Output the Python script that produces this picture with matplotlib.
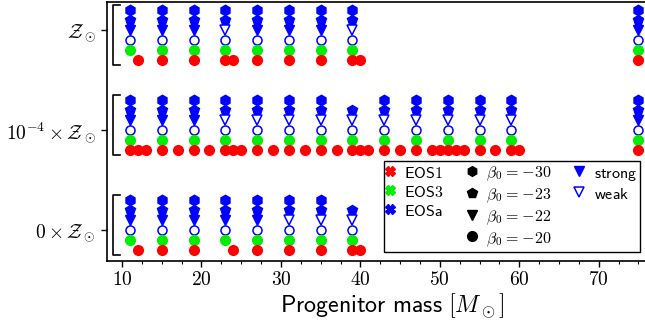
import matplotlib
matplotlib.use("Agg")
import matplotlib.pyplot as plt
from matplotlib.lines import Line2D
from matplotlib.ticker import MultipleLocator, FuncFormatter

plt.rcParams['mathtext.fontset'] = 'cm'

# metallicity groups, bottom to top
group_labels = [r"$0\times\mathcal{Z}_\odot$", r"$10^{-4}\times\mathcal{Z}_\odot$", r"$\mathcal{Z}_\odot$"]

# Z = 0
z0_hex = [11, 15, 19, 23, 27, 31, 35]
z0_pent = [11, 15, 19, 23, 27, 31, 35, 39]
z0_strong = [11, 15, 19, 23, 27]
z0_weak = [31, 35, 39]
z0_circ = [11, 15, 19, 23, 27, 31, 35, 39]
z0_eos3 = [11, 15, 19, 23, 27, 31, 35, 39]
z0_eos1 = [12, 15, 19, 24, 27, 31, 35, 39, 40]

# Z = 1e-4 Zsun
z4_hex = [11, 15, 19, 23, 27, 31, 35, 43, 47, 51, 55, 59, 75]
z4_pent = [11, 15, 19, 23, 27, 31, 35, 39, 43, 47, 51, 55, 59, 75]
z4_strong = [11, 15, 19, 75]
z4_weak = [23, 27, 31, 35, 39, 43, 47, 51, 55, 59]
z4_circ = [11, 15, 19, 23, 27, 31, 35, 39, 43, 47, 51, 55, 59, 75]
z4_eos3 = [11, 15, 19, 23, 27, 31, 35, 39, 43, 47, 51, 55, 59, 75]
z4_eos1 = [11, 12, 13, 15, 17, 19, 21, 23, 24, 25, 27, 29, 31, 33, 35, 37, 39, 40, 41,
           43, 45, 47, 49, 50, 51, 52, 53, 55, 57, 59, 60, 75]

# Z = Zsun
zs_hex = [11, 15, 19, 23, 27, 31, 35, 39, 75]
zs_pent = [11, 15, 19, 23, 27, 31, 35, 39, 75]
zs_strong = [11, 15, 19, 27, 31, 35, 75]
zs_weak = [23, 39]
zs_circ = [11, 15, 19, 23, 27, 31, 35, 39, 75]
zs_eos3 = [11, 15, 19, 23, 27, 31, 35, 39, 75]
zs_eos1 = [12, 15, 19, 23, 24, 27, 31, 35, 39, 40, 75]

groups = [
    (z0_hex, z0_pent, z0_strong, z0_weak, z0_circ, z0_eos3, z0_eos1),
    (z4_hex, z4_pent, z4_strong, z4_weak, z4_circ, z4_eos3, z4_eos1),
    (zs_hex, zs_pent, zs_strong, zs_weak, zs_circ, zs_eos3, zs_eos1),
]
group_shift = [0.0, 0.0, -0.1]

red = '#ff0000'
green = '#00ee00'
blue = '#0000ff'
ms = 7

fig = plt.figure(figsize=(6.45, 3.24), dpi=100)
# the axes runs past the right edge of the figure (cropped like the original)
ax = fig.add_axes([107 / 645, 1 - 260.7 / 324, (677.4 - 107) / 645, (260.7 - 1.5) / 324])

for i, (hx, pe, st, wk, ci, e3, e1) in enumerate(groups):
    y0 = i + group_shift[i]
    ax.plot(hx, [y0 + 0.3] * len(hx), 'h', color=blue, ms=ms + 0.5, ls='none')
    ax.plot(pe, [y0 + 0.2] * len(pe), 'p', color=blue, ms=ms + 0.5, ls='none')
    ax.plot(st, [y0 + 0.1] * len(st), 'v', color=blue, ms=ms, ls='none')
    ax.plot(wk, [y0 + 0.1] * len(wk), 'v', mfc='white', mec=blue, mew=1.1, ms=ms, ls='none')
    ax.plot(ci, [y0] * len(ci), 'o', mfc='white', mec=blue, mew=1.1, ms=ms - 0.5, ls='none')
    ax.plot(e3, [y0 - 0.1] * len(e3), 'o', color=green, ms=ms, ls='none')
    ax.plot(e1, [y0 - 0.2] * len(e1), 'o', color=red, ms=ms, ls='none')
    top, bot = y0 + 0.35, y0 - 0.25
    ax.plot([9.8, 8.9, 8.9, 9.8], [top, top, bot, bot], 'k-', lw=1.2)

ax.set_xlim(8.11, 79.9)
ax.set_ylim(-0.308, 2.29)
ax.set_yticks([0, 1, 2])
ax.set_yticklabels(group_labels, fontsize=14)
ax.xaxis.set_major_locator(MultipleLocator(10))
ax.xaxis.set_minor_locator(MultipleLocator(2.5))
ax.xaxis.set_major_formatter(FuncFormatter(lambda v, p: f"${v:g}$"))
ax.tick_params(axis='x', which='major', length=4, width=1, labelsize=14, pad=3)
ax.tick_params(axis='x', which='minor', length=2, width=0.8)
ax.tick_params(axis='y', which='major', length=4, width=1, pad=4)
for s in ['left', 'bottom', 'top', 'right']:
    ax.spines[s].set_linewidth(1.2)
ax.set_xlabel(r"$\mathsf{Progenitor\ mass}\ [M_\odot]$", fontsize=17.3, labelpad=1)

# legend
blank = Line2D([], [], ls='none')
handles = [
    Line2D([], [], marker='X', color=red, ls='none', ms=7),
    Line2D([], [], marker='X', color=green, ls='none', ms=7),
    Line2D([], [], marker='X', color=blue, ls='none', ms=7),
    blank,
    Line2D([], [], marker='h', color='k', ls='none', ms=7),
    Line2D([], [], marker='p', color='k', ls='none', ms=7),
    Line2D([], [], marker='v', color='k', ls='none', ms=7),
    Line2D([], [], marker='o', color='k', ls='none', ms=7),
    Line2D([], [], marker='v', color=blue, ls='none', ms=7),
    Line2D([], [], marker='v', mfc='white', mec=blue, mew=1.1, ls='none', ms=7),
    blank, blank,
]
beta_vals = ["30", "23", "22", "20"]
beta_labels = [r"$\beta_0\hspace{0.1}{=}\hspace{0.05}{-}" + b + "$" for b in beta_vals]
labels = [r"$\mathsf{EOS1}$", r"$\mathsf{EOS3}$", r"$\mathsf{EOSa}$", ""] + beta_labels + \
         [r"$\mathsf{strong}$", r"$\mathsf{weak}$", "", ""]
leg = ax.legend(handles, labels, ncol=3, fontsize=11.5, loc='upper left',
                bbox_to_anchor=(384.3 / 645, 1 - 161 / 324), bbox_transform=fig.transFigure,
                borderaxespad=0, handlelength=0.3, handleheight=1.2, handletextpad=0.73,
                columnspacing=1.62, labelspacing=0.16, borderpad=0.2,
                fancybox=False, framealpha=1, edgecolor='k')
leg.get_frame().set_linewidth(1.0)

fig.savefig("out.png", dpi=100)
